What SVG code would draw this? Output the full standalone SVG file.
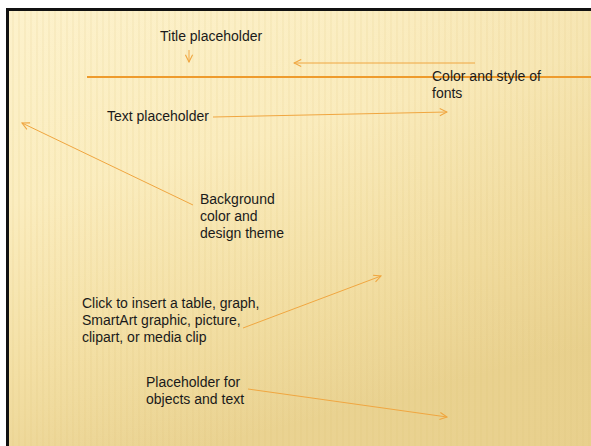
<svg xmlns="http://www.w3.org/2000/svg" width="591" height="446" viewBox="0 0 591 446">
  <defs>
    <linearGradient id="bg" x1="0" y1="0" x2="0.35" y2="1">
      <stop offset="0" stop-color="#FDF2CC"/>
      <stop offset="0.4" stop-color="#FBEDBF"/>
      <stop offset="0.75" stop-color="#F3DFA4"/>
      <stop offset="1" stop-color="#EAD392"/>
    </linearGradient>
    <linearGradient id="shade" x1="0" y1="0" x2="1" y2="0">
      <stop offset="0" stop-color="#E2C57A" stop-opacity="0"/>
      <stop offset="0.6" stop-color="#E2C57A" stop-opacity="0.04"/>
      <stop offset="1" stop-color="#E2C57A" stop-opacity="0.2"/>
    </linearGradient>
    <pattern id="stripes" width="6" height="446" patternUnits="userSpaceOnUse">
      <rect x="0" y="0" width="2" height="446" fill="#D9BC6A" opacity="0.1"/>
    </pattern>
    <marker id="arr" viewBox="0 0 10 10" refX="9" refY="5" markerWidth="9" markerHeight="9" markerUnits="userSpaceOnUse" orient="auto">
      <path d="M1,1 L9,5 L1,9" fill="none" stroke="#F0A640" stroke-width="1.2"/>
    </marker>
    <style>
      .lbl { font-family: "Liberation Sans", Arial, sans-serif; font-size: 14px; fill: #1A1A1A; }
      .conn { fill: none; stroke: #F0A640; stroke-width: 1; marker-end: url(#arr); }
    </style>
  </defs>

  <rect x="0" y="0" width="591" height="446" fill="#FFFFFF"/>
  <rect x="6" y="9" width="585" height="437" fill="url(#bg)"/>
  <rect x="6" y="9" width="585" height="437" fill="url(#shade)"/>
  <rect x="6" y="9" width="585" height="437" fill="url(#stripes)"/>
  <rect x="6" y="8" width="585" height="3" fill="#111111"/>
  <rect x="6" y="8" width="3" height="438" fill="#111111"/>

  <g id="title-rule">
    <line x1="87" y1="77" x2="591" y2="77" stroke="#EE9B2C" stroke-width="2"/>
  </g>

  <g id="connectors">
    <line class="conn" x1="189" y1="50" x2="189" y2="62"/>
    <line class="conn" x1="475" y1="63" x2="294" y2="63"/>
    <line class="conn" x1="213" y1="117" x2="447" y2="112"/>
    <line class="conn" x1="193" y1="205" x2="22" y2="123"/>
    <line class="conn" x1="243" y1="328" x2="381" y2="276"/>
    <line class="conn" x1="248" y1="389" x2="447" y2="417"/>
  </g>

  <g id="title-placeholder">
    <text class="lbl" x="160" y="41">Title placeholder</text>
  </g>
  <g id="color-style">
    <text class="lbl" x="432" y="81">Color and style of</text>
    <text class="lbl" x="432" y="98">fonts</text>
  </g>
  <g id="text-placeholder">
    <text class="lbl" x="107" y="121">Text placeholder</text>
  </g>
  <g id="background">
    <text class="lbl" x="200" y="204">Background</text>
    <text class="lbl" x="200" y="221">color and</text>
    <text class="lbl" x="200" y="238">design theme</text>
  </g>
  <g id="click-insert">
    <text class="lbl" x="82" y="308">Click to insert a table, graph,</text>
    <text class="lbl" x="82" y="325">SmartArt graphic, picture,</text>
    <text class="lbl" x="82" y="342">clipart, or media clip</text>
  </g>
  <g id="placeholder-objects">
    <text class="lbl" x="146" y="387">Placeholder for</text>
    <text class="lbl" x="146" y="404">objects and text</text>
  </g>
</svg>
